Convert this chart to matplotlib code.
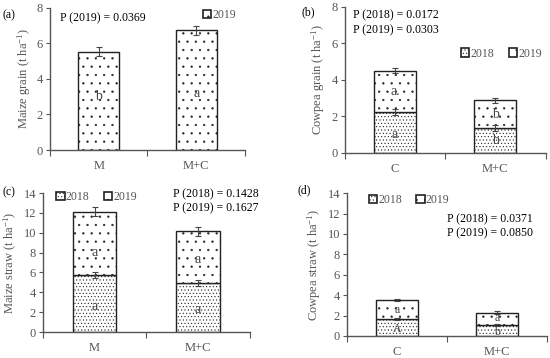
import numpy as np
import matplotlib
matplotlib.use('Agg')
import matplotlib.pyplot as plt
from matplotlib.patches import Patch

plt.rcParams['font.family'] = ['Liberation Serif', 'DejaVu Serif']
plt.rcParams['mathtext.fontset'] = 'custom'
plt.rcParams['mathtext.rm'] = 'Liberation Serif'
plt.rcParams['mathtext.it'] = 'Liberation Serif:italic'
plt.rcParams['hatch.color'] = '#222222'
plt.rcParams['hatch.linewidth'] = 0.4

## data
cats_maize = ['M', 'M+C']
cats_cowpea = ['C', 'M+C']

# (a) maize grain, 2019 only
maize_grain_2019 = [5.52, 6.75]
maize_grain_2019_err = [0.25, 0.25]
maize_grain_2019_let = ['b', 'a']

# (b) cowpea grain
cowpea_grain_2018 = [2.25, 1.35]
cowpea_grain_2018_err = [0.15, 0.15]
cowpea_grain_2019 = [2.25, 1.52]
cowpea_grain_2019_err = [0.15, 0.15]
cowpea_grain_let18 = ['a', 'b']
cowpea_grain_let19 = ['a.', 'b']

# (c) maize straw
maize_straw_2018 = [5.7, 4.9]
maize_straw_2018_err = [0.3, 0.3]
maize_straw_2019 = [6.4, 5.25]
maize_straw_2019_err = [0.45, 0.45]
maize_straw_let18 = ['a', 'a']
maize_straw_let19 = ['a', 'a']

# (d) cowpea straw
cowpea_straw_2018 = [1.65, 1.05]
cowpea_straw_2018_err = [0.12, 0.12]
cowpea_straw_2019 = [1.85, 1.25]
cowpea_straw_2019_err = [0.12, 0.12]
cowpea_straw_let18 = ['A', 'b']
cowpea_straw_let19 = ['a', 'a']

grey = '#555555'
hatch18 = '.....'
hatch19 = '..'

fig = plt.figure(figsize=(5.5, 3.58), dpi=100)

def style_ax(ax, ymax, ystep, cats, ylabel):
    ax.set_xlim(-0.5, 1.5)
    ax.set_ylim(0, ymax)
    ax.set_yticks(np.arange(0, ymax + 0.1, ystep))
    ax.set_xticks([-0.5, 0.5, 1.5])
    ax.set_xticklabels([])
    ax.set_xticks([0, 1], minor=True)
    ax.set_xticklabels(cats, minor=True)
    ax.tick_params(axis='x', which='minor', length=0, pad=7, labelsize=9, colors=grey)
    ax.tick_params(axis='x', which='major', length=4, color=grey)
    ax.tick_params(axis='y', length=3, color=grey, labelcolor=grey, labelsize=9, pad=2)
    for s in ['top', 'right']:
        ax.spines[s].set_visible(False)
    for s in ['left', 'bottom']:
        ax.spines[s].set_color(grey)
        ax.spines[s].set_linewidth(1.0)
    ax.set_ylabel(ylabel, color=grey, fontsize=9, labelpad=3)

def bars(ax, bottom_vals, vals, err, hatch):
    x = np.arange(len(vals))
    ax.bar(x, vals, width=0.42, bottom=bottom_vals, color='white', edgecolor='#222222',
           linewidth=1.0, hatch=hatch, zorder=2)
    tops = np.array(bottom_vals) + np.array(vals)
    ax.errorbar(x, tops, yerr=err, fmt='none', ecolor='#444444', elinewidth=0.8,
                capsize=2.5, capthick=0.8, zorder=3)

def letters(ax, ypos, labs, size=10):
    for i, (y, t) in enumerate(zip(ypos, labs)):
        ax.text(i, y, t, ha='center', va='center', fontsize=size, color='#444444', zorder=4)

def legend(ax, items, loc, anchor):
    handles = [Patch(facecolor='white', edgecolor='#222222', linewidth=1.2, hatch=h, label=l)
               for l, h in items]
    ax.legend(handles=handles, loc=loc, bbox_to_anchor=anchor, ncol=len(items), frameon=False,
              fontsize=8.5, handlelength=0.7, handleheight=0.7, handletextpad=0.1,
              columnspacing=1.2, labelcolor=grey)

# (a)
ax = fig.add_axes([0.0909, 0.581, 0.3545, 0.397])
zero = [0, 0]
bars(ax, zero, maize_grain_2019, maize_grain_2019_err, hatch19)
letters(ax, [3.0, 3.2], maize_grain_2019_let)
style_ax(ax, 8, 2, cats_maize, 'Maize grain (t ha$^{-1}$)')
ax.text(0.05, 0.93, 'P (2019) = 0.0369', transform=ax.transAxes, fontsize=8.5, va='center')
legend(ax, [('2019', hatch19)], 'center', (0.87, 0.95))
fig.text(0.005, 0.957, '(a)', fontsize=8.5, va='center')

# (b)
ax = fig.add_axes([0.627, 0.573, 0.365, 0.408])
bars(ax, zero, cowpea_grain_2018, cowpea_grain_2018_err, hatch18)
bars(ax, cowpea_grain_2018, cowpea_grain_2019, cowpea_grain_2019_err, hatch19)
letters(ax, [1.0, 0.65], cowpea_grain_let18)
letters(ax, [3.35, 2.1], cowpea_grain_let19)
style_ax(ax, 8, 2, cats_cowpea, 'Cowpea grain (t ha$^{-1}$)')
ax.text(0.04, 0.94, 'P (2018) = 0.0172', transform=ax.transAxes, fontsize=8.5, va='center')
ax.text(0.04, 0.84, 'P (2019) = 0.0303', transform=ax.transAxes, fontsize=8.5, va='center')
legend(ax, [('2018', hatch18), ('2019', hatch19)], 'center', (0.78, 0.68))
fig.text(0.548, 0.966, '(b)', fontsize=8.5, va='center')

# (c)
ax = fig.add_axes([0.078, 0.0726, 0.376, 0.388])
bars(ax, zero, maize_straw_2018, maize_straw_2018_err, hatch18)
bars(ax, maize_straw_2018, maize_straw_2019, maize_straw_2019_err, hatch19)
letters(ax, [2.6, 2.3], maize_straw_let18)
letters(ax, [8.0, 7.3], maize_straw_let19)
style_ax(ax, 14, 2, cats_maize, 'Maize straw (t ha$^{-1}$)')
ax.text(0.63, 0.99, 'P (2018) = 0.1428', transform=ax.transAxes, fontsize=8.5, va='center')
ax.text(0.63, 0.89, 'P (2019) = 0.1627', transform=ax.transAxes, fontsize=8.5, va='center')
legend(ax, [('2018', hatch18), ('2019', hatch19)], 'center', (0.26, 0.97))
fig.text(0.005, 0.462, '(c)', fontsize=8.5, va='center')

# (d)
ax = fig.add_axes([0.631, 0.0615, 0.364, 0.399])
bars(ax, zero, cowpea_straw_2018, cowpea_straw_2018_err, hatch18)
bars(ax, cowpea_straw_2018, cowpea_straw_2019, cowpea_straw_2019_err, hatch19)
letters(ax, [0.65, 0.4], cowpea_straw_let18, size=8.5)
letters(ax, [2.5, 1.8], cowpea_straw_let19, size=8.5)
style_ax(ax, 14, 2, cats_cowpea, 'Cowpea straw (t ha$^{-1}$)')
ax.text(0.5, 0.82, 'P (2018) = 0.0371', transform=ax.transAxes, fontsize=8.5, va='center')
ax.text(0.5, 0.72, 'P (2019) = 0.0850', transform=ax.transAxes, fontsize=8.5, va='center')
legend(ax, [('2018', hatch18), ('2019', hatch19)], 'center', (0.31, 0.95))
fig.text(0.54, 0.469, '(d)', fontsize=8.5, va='center')

fig.savefig('out.png', dpi=100)
